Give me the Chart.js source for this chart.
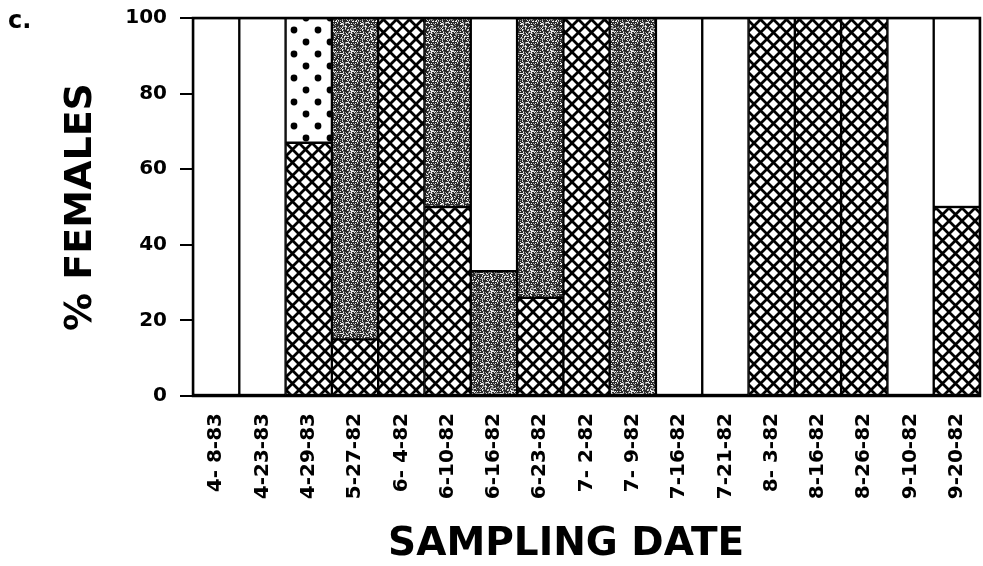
<!DOCTYPE html>
<html>
<head>
<meta charset="utf-8">
<script src="https://cdn.jsdelivr.net/npm/chart.js@4"></script>
<style>
  html, body { margin: 0; padding: 0; background: #fff; }
  #wrap { width: 983px; height: 566px; }
</style>
</head>
<body>
<div id="wrap"><canvas id="femalesChart" width="983" height="566"></canvas></div>
<script>
const dates = ['4- 8-83', '4-23-83', '4-29-83', '5-27-82', '6- 4-82', '6-10-82', '6-16-82', '6-23-82',
  '7- 2-82', '7- 9-82', '7-16-82', '7-21-82', '8- 3-82', '8-16-82', '8-26-82', '9-10-82', '9-20-82'];

// % females per category, stacked bottom -> top
const crossPct   = [null, null, 67, 15, 100, 50, null, 26, 100, null, null, null, 100, 100, 100, null, 50];
const stipplePct = [null, null, null, 85, null, 50, 33, 74, null, 100, null, null, null, null, null, null, null];
const dotsPct    = [null, null, 33, null, null, null, null, null, null, null, null, null, null, null, null, null, null];
const openPct    = [100, 100, null, null, null, null, 67, null, null, null, 100, 100, null, null, null, 100, 50];

const yTicks = [0, 20, 40, 60, 80, 100];

// fill patterns
function makeTile(w, h, draw) {
  const c = document.createElement('canvas');
  c.width = w; c.height = h;
  const g = c.getContext('2d');
  g.fillStyle = '#fff';
  g.fillRect(0, 0, w, h);
  draw(g);
  return g.createPattern(c, 'repeat');
}

const crossFill = makeTile(13, 13, g => {
  g.strokeStyle = '#000';
  g.lineWidth = 2.8;
  g.beginPath();
  g.moveTo(-1, -1); g.lineTo(14, 14);
  g.moveTo(14, -1); g.lineTo(-1, 14);
  g.stroke();
});

// grainy dark grey, like the photocopied screen tone
const stippleFill = makeTile(20, 20, g => {
  g.fillStyle = '#2a2a2a';
  g.fillRect(0, 0, 20, 20);
  for (let y = 0; y < 20; y++) {
    for (let x = 0; x < 20; x++) {
      const h = ((x * 7 + y * 13) ^ (x * y + 3)) % 5;
      if (h === 0) { g.fillStyle = '#f0f0f0'; g.fillRect(x, y, 1, 1); }
      else if (h === 3) { g.fillStyle = '#9a9a9a'; g.fillRect(x, y, 1, 1); }
    }
  }
});

const dotsFill = makeTile(24, 24, g => {
  g.fillStyle = '#000';
  [[6, 6], [18, 18]].forEach(([x, y]) => {
    g.beginPath();
    g.arc(x, y, 3.4, 0, Math.PI * 2);
    g.fill();
  });
});

const framePlugin = {
  id: 'frame',
  afterDraw(chart) {
    const { ctx, chartArea: a } = chart;
    ctx.save();
    ctx.strokeStyle = '#000';
    ctx.lineWidth = 2.5;
    ctx.strokeRect(a.left, a.top, a.right - a.left, a.bottom - a.top);
    ctx.fillStyle = '#000';
    ctx.font = 'bold 24px "DejaVu Sans"';
    ctx.textBaseline = 'alphabetic';
    ctx.fillText('c.', 8, 28);
    ctx.restore();
  }
};

function seg(label, data, fill) {
  return {
    label: label,
    data: data,
    backgroundColor: fill,
    borderColor: '#000',
    borderWidth: 1.5,
    borderSkipped: false,
    categoryPercentage: 1,
    barPercentage: 1
  };
}

const ctx = document.getElementById('femalesChart').getContext('2d');

new Chart(ctx, {
  type: 'bar',
  data: {
    labels: dates,
    datasets: [
      seg('cross', crossPct, crossFill),
      seg('stipple', stipplePct, stippleFill),
      seg('dots', dotsPct, dotsFill),
      seg('open', openPct, '#fff')
    ]
  },
  options: {
    responsive: false,
    animation: false,
    layout: { padding: { top: 18, right: 3, left: 0, bottom: 0 } },
    plugins: { legend: { display: false }, tooltip: { enabled: false } },
    scales: {
      x: {
        stacked: true,
        grid: { display: false, drawTicks: false },
        border: { display: true, color: '#000', width: 2 },
        ticks: {
          autoSkip: false,
          minRotation: 90,
          maxRotation: 90,
          padding: 17,
          color: '#000',
          font: { family: 'DejaVu Sans', weight: 'bold', size: 20 }
        },
        title: {
          display: true,
          text: 'SAMPLING DATE   ',
          color: '#000',
          font: { family: 'DejaVu Sans', weight: 'bold', size: 39, lineHeight: 1.1 },
          padding: { top: 0, bottom: 0 }
        },
        afterFit(scale) {
          scale.height = 170;
          scale.paddingLeft = 0;
          scale.paddingRight = 0;
        }
      },
      y: {
        stacked: true,
        min: 0,
        max: 100,
        afterBuildTicks(scale) { scale.ticks = yTicks.map(v => ({ value: v })); },
        grid: { drawOnChartArea: false, drawTicks: true, tickLength: 13, color: '#000', lineWidth: 2 },
        border: { display: true, color: '#000', width: 2 },
        ticks: {
          padding: 13,
          color: '#000',
          font: { family: 'DejaVu Sans', weight: 'bold', size: 20 }
        },
        title: {
          display: true,
          text: '% FEMALES',
          color: '#000',
          font: { family: 'DejaVu Sans', weight: 'bold', size: 38 },
          padding: { top: 58, bottom: 0 }
        },
        afterFit(scale) {
          scale.width = 193;
          scale.paddingTop = 0;
          scale.paddingBottom = 0;
        }
      }
    }
  },
  plugins: [framePlugin]
});
</script>
</body>
</html>
